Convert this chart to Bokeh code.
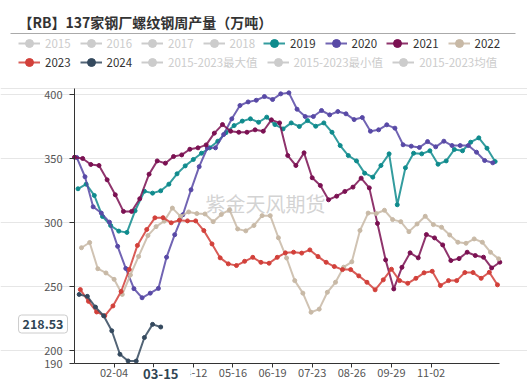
from datetime import date, timedelta
from bokeh.plotting import figure
from bokeh.models import Range1d, FixedTicker, Label, Legend, LegendItem, Arrow
from bokeh.embed import file_html
from bokeh.resources import INLINE

# ---------------- data ----------------
categories = [(date(2024, 1, 1) + timedelta(days=i)).strftime("%m-%d") for i in range(366)]
tick_labels = ["02-04", "03-09", "04-12", "05-16", "06-19", "07-23", "08-26", "09-29", "11-02"]
y_ticks = [190, 200, 250, 300, 350, 400]
grid_values = [200, 250, 300, 350, 400, 405]

years = ["2019", "2020", "2021", "2022", "2023", "2024"]
first_dates = ["2019-01-04", "2020-01-03", "2021-01-01", "2022-01-07", "2023-01-06", "2024-01-05"]

v2019 = [326.6, 330.2, 321.4, 305.0, 297.9, 293.5, 292.5, 309.4, 324.7, 323.2,
         325.0, 330.2, 338.3, 344.5, 349.5, 354.4, 358.6, 363.8, 370.5, 376.0,
         379.5, 381.3, 378.6, 382.6, 376.8, 373.4, 378.1, 375.3, 379.9, 375.5,
         378.1, 370.8, 360.4, 352.6, 348.4, 338.8, 335.7, 344.8, 353.9, 314.1,
         343.0, 354.4, 353.9, 356.3, 345.8, 348.4, 357.3, 356.3, 363.0, 366.4,
         358.3, 347.9]
v2020 = [351.0, 336.0, 312.5, 307.6, 300.5, 281.6, 264.3, 248.5, 241.4, 245.0,
         248.7, 273.1, 290.7, 306.3, 325.8, 343.9, 358.5, 358.6, 369.0, 381.3,
         391.7, 394.5, 395.8, 398.7, 396.4, 400.8, 401.6, 388.8, 383.1, 383.1,
         387.8, 384.4, 387.0, 385.2, 380.7, 382.3, 371.6, 372.7, 376.6, 374.0,
         361.0, 359.9, 358.9, 363.5, 359.4, 363.8, 360.4, 360.4, 360.4, 355.2,
         348.7, 346.9]
v2021 = [351.3, 350.3, 345.6, 344.8, 333.6, 321.9, 308.9, 308.9, 318.8, 338.0,
         348.4, 346.6, 351.8, 353.1, 357.5, 358.6, 360.9, 370.1, 376.8, 371.6,
         370.8, 370.8, 372.7, 371.6, 380.5, 378.1, 352.6, 344.8, 354.7, 335.2,
         329.2, 318.0, 320.8, 324.5, 327.9, 334.9, 327.3, 299.5, 271.0, 248.3,
         265.2, 276.5, 272.6, 290.8, 288.2, 282.7, 270.5, 272.0, 277.0, 274.4,
         273.1, 264.7, 269.2]
v2022 = [280.5, 284.6, 264.1, 260.8, 255.8, 244.0, 259.2, 273.7, 290.0, 297.0,
         301.3, 311.5, 305.0, 308.5, 307.2, 306.9, 300.9, 306.5, 310.2, 295.2,
         293.7, 297.9, 305.6, 305.6, 288.3, 272.5, 254.8, 245.0, 230.1, 232.5,
         245.7, 253.5, 265.3, 269.5, 294.0, 307.6, 307.3, 309.8, 302.5, 300.9,
         293.1, 299.1, 305.1, 298.6, 296.5, 290.5, 284.8, 284.0, 287.4, 284.8,
         277.0, 271.8]
v2023 = [247.8, 238.6, 230.3, 227.3, 235.0, 246.3, 263.5, 282.3, 294.8, 303.9,
         304.0, 300.0, 302.0, 301.5, 301.5, 293.9, 283.5, 272.6, 267.9, 266.6,
         269.9, 273.0, 269.1, 268.4, 273.0, 276.5, 277.0, 276.3, 278.8, 273.6,
         269.1, 265.8, 263.4, 263.4, 258.5, 253.5, 247.6, 255.4, 263.7, 254.8,
         252.7, 256.6, 260.9, 262.1, 251.0, 254.8, 254.8, 261.1, 261.1, 256.6,
         261.3, 251.5]
v2024 = [244.0, 242.5, 234.1, 227.3, 215.6, 197.2, 192.0, 191.9, 210.3, 220.6, 218.53]
values = [v2019, v2020, v2021, v2022, v2023, v2024]
colors = ["#0f8b8d", "#5849a6", "#7b1152", "#c8b9a6", "#d2403a", "#34495e"]

inactive_years = ["2015", "2016", "2017", "2018"]
inactive_stats = ["2015-2023最大值", "2015-2023最小值", "2015-2023均值"]
pointer_date = "03-15"
pointer_value = 218.53
title_text = "【RB】137家钢厂螺纹钢周产量（万吨）"
watermark_text = "紫金天风期货"

# ---------------- layout ----------------
W, H = 527, 384
PL, PR, PT, PB = 74, 499.3, 88, 363          # plot area inside the canvas (px)
X0, X1, Y0, Y1 = 0, 365, 190, 405
FONT = "Noto Sans CJK SC"
ppx = (PR - PL) / (X1 - X0)
ppy = (PB - PT) / (Y1 - Y0)
XS, XE = X0 - PL / ppx, X1 + (W - PR) / ppx
YS, YE = Y0 - (H - PB) / ppy, Y1 + PT / ppy


def dx(px):
    return XS + px / ppx


def dy(py):
    return YE - py / ppy


def weekly_x(start, n):
    d0 = date.fromisoformat(start)
    return [categories.index((d0 + timedelta(weeks=k)).strftime("%m-%d")) for k in range(n)]


p = figure(width=W, height=H, x_range=Range1d(XS, XE), y_range=Range1d(YS, YE),
           output_backend="svg", toolbar_location=None, min_border=0)
p.outline_line_color = None
p.background_fill_color = "white"
p.border_fill_color = "white"

# axes (drawn at fixed data locations inside the canvas)
hidden_tick = categories.index("03-09")   # lies under the axis-pointer label
p.xaxis.ticker = FixedTicker(ticks=[categories.index(t) for t in tick_labels], minor_ticks=[])
p.xaxis.major_label_overrides = {categories.index(t): ("" if categories.index(t) == hidden_tick else t)
                                 for t in tick_labels}
p.yaxis.ticker = FixedTicker(ticks=y_ticks, minor_ticks=[])
p.xaxis.fixed_location = Y0
p.yaxis.fixed_location = X0
p.xaxis.bounds = (X0, X1)
p.yaxis.bounds = (Y0, Y1)
for ax in (p.xaxis, p.yaxis):
    ax.axis_line_color = "#333333"
    ax.major_tick_line_color = "#333333"
    ax.major_tick_in = 0
    ax.minor_tick_out = 0
    ax.minor_tick_in = 0
    ax.major_label_text_font = FONT
    ax.major_label_text_font_size = "11px"
    ax.major_label_text_color = "#555555"
p.xaxis.major_tick_out = 4
p.xaxis.major_label_standoff = 1
p.yaxis.major_tick_out = 5
p.yaxis.major_label_standoff = 7
p.xgrid.visible = False
p.ygrid.ticker = FixedTicker(ticks=grid_values)
p.ygrid.bounds = (X0, X1)
p.ygrid.grid_line_color = "#e6e6e6"

# watermark
p.add_layout(Label(x=dx(205), y=dy(203), text=watermark_text, text_font=FONT,
                   text_font_size="20px", text_color="#cccccc", text_alpha=0.85,
                   text_baseline="middle", level="underlay"))

# series
active_items = []
for yr, start, vals, col in zip(years, first_dates, values, colors):
    xs = weekly_x(start, len(vals))
    rl = p.line(xs, vals, line_color=col, line_width=2, line_alpha=0.85)
    rs = p.scatter(xs, vals, size=4, fill_color=col, line_color=col)
    active_items.append(LegendItem(label=yr, renderers=[rl, rs]))

inactive_items = []
nan = float("nan")
for name in inactive_years + inactive_stats:
    rl = p.line([nan], [nan], line_color="#cccccc", line_width=2)
    rs = p.scatter([nan], [nan], size=8, fill_color="#cccccc", line_color="#cccccc")
    inactive_items.append(LegendItem(label=name, renderers=[rl, rs]))


def add_legend(items, fx, fy_center, text_color):
    lg = Legend(items=items, location=(fx, H - (fy_center + 10)),
                orientation="horizontal", padding=0, margin=0, spacing=9,
                glyph_width=22, glyph_height=20, label_height=20, label_standoff=5,
                label_text_font=FONT, label_text_font_size="11.5px",
                label_text_color=text_color, background_fill_alpha=0,
                border_line_alpha=0)
    p.add_layout(lg)


add_legend(inactive_items[:4], 18, 42.7, "#cccccc")
add_legend(active_items[:4], 263, 42.7, "#333333")
add_legend(active_items[4:], 18, 62.3, "#333333")
add_legend(inactive_items[4:], 141, 62.3, "#cccccc")

# title and separator
p.add_layout(Label(x=dx(18), y=dy(21), text=title_text, text_font=FONT,
                   text_font_size="14px", text_font_style="bold",
                   text_color="#333333", text_baseline="middle"))
p.add_layout(Arrow(start=None, end=None, x_start=dx(10), y_start=dy(33),
                   x_end=dx(515), y_end=dy(33), line_color="#aaaaaa", line_width=1))

# axis pointer labels
p.add_layout(Label(x=categories.index(pointer_date), y=Y0, y_offset=-10, text=pointer_date,
                   text_font=FONT, text_font_size="13px", text_font_style="bold",
                   text_color="#2f4554", text_align="center", text_baseline="middle",
                   background_fill_color="white",
                   padding=dict(left=12, right=12, top=1, bottom=1)))
p.add_layout(Label(x=X0, y=pointer_value, x_offset=-7, y_offset=3, text=f"{pointer_value:.2f}",
                   text_font=FONT, text_font_size="12.5px", text_font_style="bold",
                   text_color="#2f4554", text_align="right", text_baseline="middle",
                   background_fill_color="white", border_line_color="#cccccc",
                   padding=4, border_radius=3))

open("out.html", "w").write(file_html(p, INLINE))
